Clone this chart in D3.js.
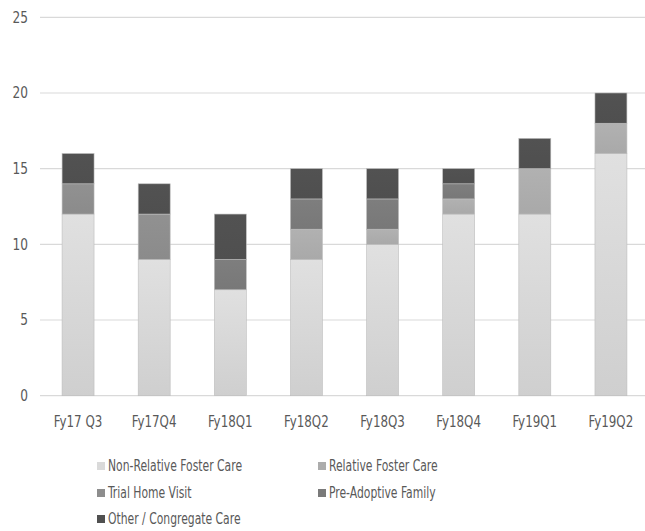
<!DOCTYPE html>
<html><head><meta charset="utf-8">
<script src="https://cdn.jsdelivr.net/npm/d3@7/dist/d3.min.js"></script>
<style>
body{margin:0;background:#fff;}
text{font-family:"DejaVu Sans Condensed","DejaVu Sans",sans-serif;fill:#595959;}
</style></head><body>
<svg id="c" width="645" height="531"></svg>
<script>
const categories = ["Fy17 Q3","Fy17Q4","Fy18Q1","Fy18Q2","Fy18Q3","Fy18Q4","Fy19Q1","Fy19Q2"];
const seriesNames = ["Non-Relative Foster Care","Relative Foster Care","Trial Home Visit","Pre-Adoptive Family","Other / Congregate Care"];
const nonRelative = [12,9,7,9,10,12,12,16];
const relative    = [0,0,0,2,1,1,3,2];
const trialHome   = [2,3,0,0,0,0,0,0];
const preAdoptive = [0,0,2,2,2,1,0,0];
const otherCare   = [2,2,3,2,2,1,2,2];
const yTicks = [0,5,10,15,20,25];
const colors = ["#dadada","#acacac","#8d8d8d","#7a7a7a","#505050"];

const seriesVals = [nonRelative, relative, trialHome, preAdoptive, otherCare];
const rows = categories.map((c,i)=>{const o={cat:c}; seriesNames.forEach((s,k)=>o[s]=seriesVals[k][i]); return o;});
const stack = d3.stack().keys(seriesNames)(rows);

const svg = d3.select("#c");
const x = d3.scaleBand().domain(categories).range([40,649]).paddingInner(0.58).paddingOuter(0.29);
const y = d3.scaleLinear().domain([0,25]).range([395.7,17.3]);

function squeeze(sel, f){
  sel.each(function(){ const L=this.getComputedTextLength(); d3.select(this).attr("textLength",L*f).attr("lengthAdjust","spacingAndGlyphs"); });
}

// gridlines
svg.append("g").selectAll("line").data(yTicks).join("line")
  .attr("x1",40).attr("x2",645).attr("y1",d=>y(d)).attr("y2",d=>y(d))
  .attr("stroke","#d9d9d9").attr("stroke-width",1.2);

// y labels
const yAxis = svg.append("g").attr("transform","translate(28,0)")
  .call(d3.axisLeft(y).tickValues(yTicks).tickSize(0).tickPadding(0));
yAxis.select(".domain").remove();
yAxis.selectAll("text").attr("font-size",15).attr("fill","#595959")
  .style("font-family",'"DejaVu Sans Condensed","DejaVu Sans",sans-serif');
squeeze(yAxis.selectAll("text"),0.9);

// gradients
const defs = svg.append("defs");
colors.forEach((c,i)=>{
  const g = defs.append("linearGradient").attr("id","g"+i).attr("x1",0).attr("y1",0).attr("x2",0).attr("y2",1);
  g.append("stop").attr("offset","0%").attr("stop-color",d3.color(c).brighter(0.08));
  g.append("stop").attr("offset","100%").attr("stop-color",d3.color(c).darker(i===0?0.15:0.05));
});

// bars
svg.append("g").selectAll("g").data(stack).join("g")
  .attr("fill",(d,i)=>`url(#g${i})`)
  .selectAll("rect").data(d=>d.filter(p=>p[1]>p[0])).join("rect")
  .attr("x",d=>x(d.data.cat)).attr("width",x.bandwidth())
  .attr("y",d=>y(d[1])).attr("height",d=>y(d[0])-y(d[1]))
  .attr("stroke","#bdbdbd").attr("stroke-width",0.6);

// x labels
const xAxis = svg.append("g").attr("transform","translate(0,414)")
  .call(d3.axisBottom(x).tickSize(0).tickPadding(0));
xAxis.select(".domain").remove();
xAxis.selectAll("text").attr("font-size",15).attr("fill","#595959").attr("dy","0.85em")
  .style("font-family",'"DejaVu Sans Condensed","DejaVu Sans",sans-serif');
squeeze(xAxis.selectAll("text"),0.88);

// legend
const legPos = [[97,466],[318,466],[97,493],[318,493],[97,519]];
const leg = svg.append("g").selectAll("g").data(seriesNames).join("g")
  .attr("transform",(d,i)=>`translate(${legPos[i][0]},${legPos[i][1]})`);
leg.append("rect").attr("x",0).attr("y",-4).attr("width",8).attr("height",8).attr("fill",(d,i)=>colors[i]);
const lt = leg.append("text").attr("x",11).attr("y",0).attr("dy","0.35em").attr("font-size",15).text(d=>d);
squeeze(lt,0.8);
</script></body></html>
